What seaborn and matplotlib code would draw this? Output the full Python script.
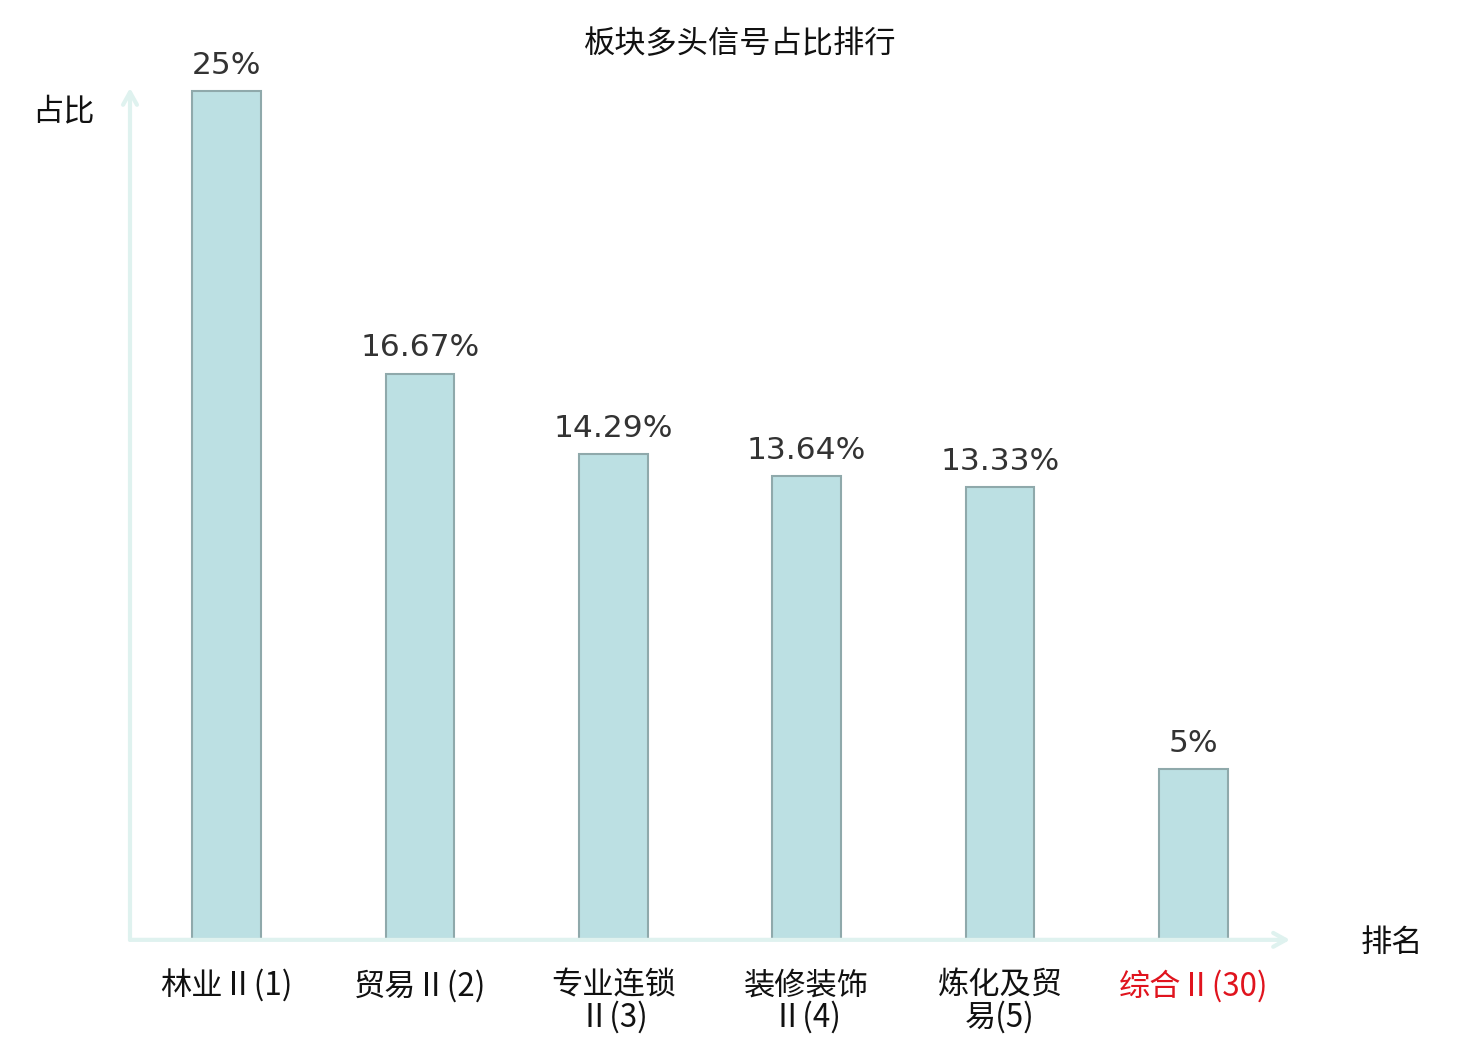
import matplotlib
matplotlib.use('Agg')
import matplotlib.pyplot as plt
import seaborn as sns
import pandas as pd

# Chart data
CATEGORIES = ['林业Ⅱ(1)', '贸易Ⅱ(2)', '专业连锁\nⅡ(3)', '装修装饰\nⅡ(4)', '炼化及贸\n易(5)', '综合Ⅱ(30)']
VALUES = [25, 16.67, 14.29, 13.64, 13.33, 5]
VALUE_LABELS = ['25%', '16.67%', '14.29%', '13.64%', '13.33%', '5%']
LABEL_COLORS = ['#111111', '#111111', '#111111', '#111111', '#111111', '#e0141e']

TITLE = '板块多头信号占比排行'
Y_NAME = '占比'
X_NAME = '排名'

sns.set_style('white')
plt.rcParams['font.family'] = ['Noto Sans CJK SC', 'DejaVu Sans']

FS = 22.5
AXIS_COLOR = '#dff2ef'

df = pd.DataFrame({'cat': CATEGORIES, 'val': VALUES})

fig = plt.figure(figsize=(14.8, 10.4), dpi=100)
ax = fig.add_axes([130 / 1480, 101 / 1040, 1160 / 1480, 851 / 1040])

sns.barplot(data=df, x='cat', y='val', ax=ax, color='#bce0e3', width=0.354,
            edgecolor='#8fa9ab', linewidth=1.5, saturation=1)

ax.set_xlim(-0.5, 5.5)
ax.set_ylim(0, 25 * 851 / 848)
for s in ax.spines.values():
    s.set_visible(False)
ax.set_yticks([])
ax.set_xlabel('')
ax.set_ylabel('')
ax.tick_params(axis='x', length=0, pad=22)
for lbl, c in zip(ax.get_xticklabels(), LABEL_COLORS):
    lbl.set_fontsize(FS)
    lbl.set_color(c)
    lbl.set_linespacing(0.98)
    lbl.set_verticalalignment('top')

# value labels on bars
for i, (v, t) in enumerate(zip(VALUES, VALUE_LABELS)):
    ax.annotate(t, (i, v), xytext=(0, 8), textcoords='offset points',
                ha='center', va='bottom', fontsize=FS, color='#333333',
                family='DejaVu Sans')

# axis arrows
arrow = dict(arrowstyle='->,head_length=0.9,head_width=0.5', color=AXIS_COLOR, lw=3,
             shrinkA=0, shrinkB=0)
ax.annotate('', xy=(1.0, -0.001), xytext=(0, -0.001), xycoords='axes fraction',
            arrowprops=arrow, annotation_clip=False)
ax.annotate('', xy=(0, 1.0), xytext=(0, -0.001), xycoords='axes fraction',
            arrowprops=arrow, annotation_clip=False)

fig.text(740 / 1480, 1 - 44 / 1040, TITLE, ha='center', va='center', fontsize=FS, color='#111111')
fig.text(63 / 1480, 1 - 111 / 1040, Y_NAME, ha='center', va='center', fontsize=FS, color='#111111')
fig.text(1392 / 1480, 1 - 943 / 1040, X_NAME, ha='center', va='center', fontsize=FS, color='#111111')

fig.savefig('out.png', dpi=100)
